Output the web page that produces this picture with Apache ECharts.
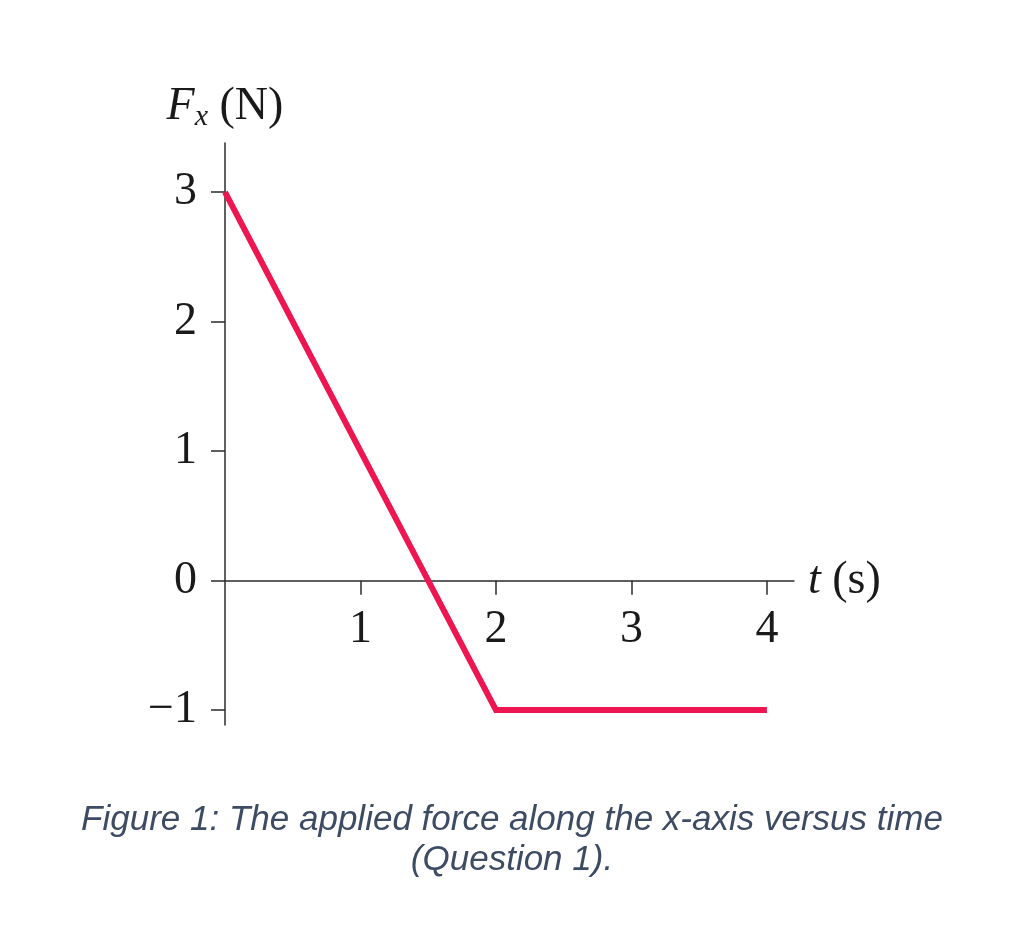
<!DOCTYPE html>
<html>
<head>
<meta charset="utf-8">
<style>
  html, body { margin: 0; padding: 0; background: #ffffff; }
  #chart { width: 1024px; height: 925px; }
</style>
<script src="https://cdn.jsdelivr.net/npm/echarts@6/dist/echarts.min.js"></script>
</head>
<body>
<div id="chart"></div>
<script>
// ---- data ----
const timeValues = [0, 2, 4];          // t (s)
const forceValues = [3, -1, -1];       // F_x (N)
const xTickValues = [1, 2, 3, 4];
const yTickValues = [-1, 0, 1, 2, 3];
const captionLines = [
  'Figure 1: The applied force along the x-axis versus time',
  '(Question 1).'
];

const seriesData = timeValues.map((t, i) => [t, forceValues[i]]);

const serif = '"Liberation Serif", "Times New Roman", serif';
const axisColor = '#2b2b2b';
const labelColor = '#1a1a1a';

// axis ranges
const xMin = 0, xMax = 4.2;
const yMin = -1.115, yMax = 3.38;
// grid layout
const gridTop = 143, gridBottom = 200, gridLeft = 225, gridRight = 230;
const gridHeight = 925 - gridTop - gridBottom;
// shift x axis up so it sits on F = 0
const xAxisOffset = -gridHeight * (0 - yMin) / (yMax - yMin);

const chart = echarts.init(document.getElementById('chart'), null, { renderer: 'canvas' });
chart.setOption({
  animation: false,
  backgroundColor: '#ffffff',
  title: {
    text: captionLines.join('\n'),
    left: 'center',
    top: 795,
    textStyle: {
      fontFamily: '"Liberation Sans", Arial, sans-serif',
      fontStyle: 'italic',
      fontWeight: 'normal',
      fontSize: 35,
      lineHeight: 40,
      color: '#3D4C63',
      align: 'center'
    }
  },
  grid: { left: gridLeft, right: gridRight, top: gridTop, bottom: gridBottom, containLabel: false },
  xAxis: {
    type: 'value',
    min: xMin,
    max: xMax,
    offset: xAxisOffset,
    name: '{it|t}{n| (s)}',
    nameLocation: 'end',
    nameGap: 14,
    nameTextStyle: {
      rich: {
        it: { fontFamily: serif, fontStyle: 'italic', fontSize: 46, color: labelColor },
        n: { fontFamily: serif, fontSize: 46, color: labelColor }
      }
    },
    axisLine: { show: true, onZero: false, lineStyle: { color: axisColor, width: 1.5 } },
    axisTick: { show: true, inside: false, length: 14, customValues: xTickValues,
                lineStyle: { color: axisColor, width: 1.5 } },
    axisLabel: { show: true, customValues: xTickValues, margin: 26,
                 fontFamily: serif, fontSize: 46, color: labelColor },
    splitLine: { show: false }
  },
  yAxis: {
    type: 'value',
    min: yMin,
    max: yMax,
    name: '{it|F}{sub|x}{n| (N)}',
    nameLocation: 'end',
    nameGap: 11,
    nameTextStyle: {
      rich: {
        it: { fontFamily: serif, fontStyle: 'italic', fontSize: 46, lineHeight: 50, color: labelColor },
        sub: { fontFamily: serif, fontStyle: 'italic', fontSize: 30, lineHeight: 20, verticalAlign: 'bottom', color: labelColor },
        n: { fontFamily: serif, fontSize: 46, lineHeight: 50, color: labelColor }
      }
    },
    axisLine: { show: true, onZero: false, lineStyle: { color: axisColor, width: 1.5 } },
    axisTick: { show: true, inside: false, length: 14, customValues: yTickValues,
                lineStyle: { color: axisColor, width: 1.5 } },
    axisLabel: { show: true, customValues: yTickValues, margin: 28,
                 fontFamily: serif, fontSize: 46, color: labelColor,
                 formatter: v => (v < 0 ? '\u2212' + Math.abs(v) : String(v)) },
    splitLine: { show: false }
  },
  series: [{
    type: 'line',
    data: seriesData,
    symbol: 'none',
    clip: false,
    lineStyle: { color: '#EE1651', width: 6, cap: 'butt', join: 'miter' }
  }]
});
</script>
</body>
</html>
